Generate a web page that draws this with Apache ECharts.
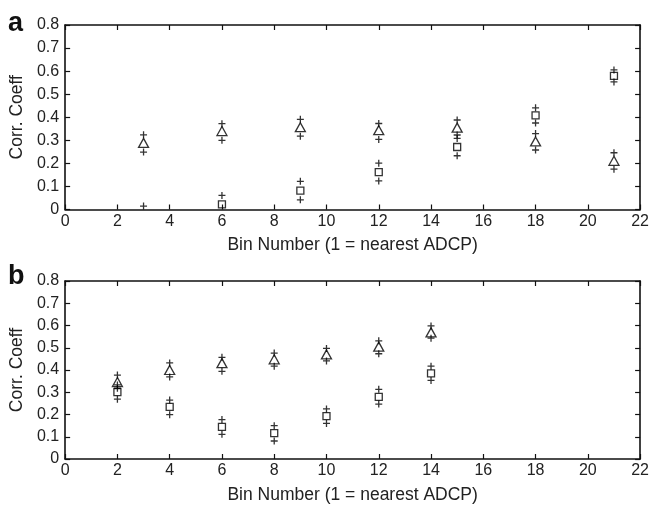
<!DOCTYPE html>
<html><head><meta charset="utf-8">
<script src="https://cdn.jsdelivr.net/npm/echarts@6/dist/echarts.min.js"></script>
<style>html,body{margin:0;padding:0;background:#fff}#c{width:652px;height:505px}</style>
</head><body><div id="c"></div>
<script>
// Panel a
const binsA = [3, 6, 9, 12, 15, 18, 21];
const triA = [0.289, 0.340, 0.357, 0.344, 0.355, 0.295, 0.211];
const triA_hi = [0.324, 0.372, 0.391, 0.373, 0.388, 0.329, 0.246];
const triA_lo = [0.249, 0.300, 0.318, 0.304, 0.323, 0.258, 0.175];
const sqA = [null, 0.022, 0.082, 0.162, 0.271, 0.408, 0.579];
const sqA_hi = [0.015, 0.061, 0.122, 0.201, 0.308, 0.441, 0.605];
const sqA_lo = [null, null, 0.042, 0.124, 0.233, 0.375, 0.553];
// Panel b
const binsB = [2, 4, 6, 8, 10, 12, 14];
const triB = [0.346, 0.400, 0.431, 0.448, 0.470, 0.505, 0.569];
const triB_hi = [0.377, 0.432, 0.457, 0.476, 0.497, 0.531, 0.598];
const triB_lo = [0.318, 0.369, 0.394, 0.417, 0.441, 0.473, 0.543];
const sqB = [0.301, 0.234, 0.144, 0.116, 0.193, 0.279, 0.385];
const sqB_hi = [0.333, 0.265, 0.177, 0.150, 0.225, 0.313, 0.417];
const sqB_lo = [0.269, 0.199, 0.111, 0.081, 0.160, 0.247, 0.353];

const xTicks = [0, 22, 2];
const yTicks = [0, 0.8, 0.1];
const xTitle = 'Bin Number (1 = nearest ADCP)';
const yTitle = 'Corr. Coeff';
const panelLabels = ['a', 'b'];

const FONT = 'Liberation Sans, Arial, sans-serif';
const chart = echarts.init(document.getElementById('c'));
const pair = (xs, ys) => xs.map((x, i) => ys[i] == null ? null : [x, ys[i]]).filter(d => d);
const plus = 'path://M-1,0L1,0M0,-1L0,1';

const grids = [
  {left: 63, right: 9, top: 25, height: 184.5},
  {left: 63, right: 9, top: 281, height: 183.5}
];
const xAxis = [], yAxis = [];
grids.forEach((g, gi) => {
  const common = {min: xTicks[0], max: xTicks[1], interval: xTicks[2], gridIndex: gi,
    splitLine: {show: false}, axisLine: {onZero: false, lineStyle: {color: '#111', width: 1.6}},
    axisTick: {inside: true, length: 5, lineStyle: {color: '#111', width: 1.2}}};
  xAxis.push(Object.assign({}, common, {type: 'value', position: 'bottom',
    axisLabel: {color: '#222', fontSize: 16, fontFamily: FONT, margin: 4,
      formatter: v => (v === 0 ? '0' : String(v))},
    name: xTitle, nameLocation: 'middle', nameGap: 27,
    nameTextStyle: {color: '#222', fontSize: 17.5, fontFamily: FONT}}));
  xAxis.push(Object.assign({}, common, {type: 'value', position: 'top', axisLabel: {show: false}}));
  const ycommon = {min: yTicks[0], max: yTicks[1], interval: yTicks[2], gridIndex: gi,
    splitLine: {show: false}, axisLine: {onZero: false, lineStyle: {color: '#111', width: 1.6}},
    axisTick: {inside: true, length: 5, lineStyle: {color: '#111', width: 1.2}}};
  yAxis.push(Object.assign({}, ycommon, {type: 'value', position: 'left',
    axisLabel: {color: '#222', fontSize: 16, fontFamily: FONT, margin: 6,
      formatter: v => (v === 0 ? '0' : v.toFixed(1))},
    name: yTitle, nameLocation: 'middle', nameGap: 36, nameRotate: 90,
    nameTextStyle: {color: '#222', fontSize: 17.5, fontFamily: FONT}}));
  yAxis.push(Object.assign({}, ycommon, {type: 'value', position: 'right', axisLabel: {show: false}}));
});

const series = [];
function addPanel(gi, bins, tri, triHi, triLo, sq, sqHi, sqLo) {
  const base = {type: 'scatter', xAxisIndex: gi * 2, yAxisIndex: gi * 2, silent: true, clip: true};
  series.push(Object.assign({}, base, {data: pair(bins, tri), symbol: 'triangle', symbolSize: [10, 9],
    itemStyle: {color: 'rgba(0,0,0,0)', borderColor: '#000', borderWidth: 1.3}}));
  series.push(Object.assign({}, base, {data: pair(bins, sq), symbol: 'rect', symbolSize: 7,
    itemStyle: {color: 'rgba(0,0,0,0)', borderColor: '#000', borderWidth: 1.3}}));
  [triHi, triLo, sqHi, sqLo].forEach(arr => {
    series.push(Object.assign({}, base, {data: pair(bins, arr), symbol: plus, symbolSize: 7,
      itemStyle: {color: 'rgba(0,0,0,0)', borderColor: '#000', borderWidth: 1.3}}));
  });
}
addPanel(0, binsA, triA, triA_hi, triA_lo, sqA, sqA_hi, sqA_lo);
addPanel(1, binsB, triB, triB_hi, triB_lo, sqB, sqB_hi, sqB_lo);

chart.setOption({
  animation: false,
  backgroundColor: '#fff',
  grid: grids,
  xAxis, yAxis, series,
  graphic: [
    {type: 'text', left: 8, top: 10, style: {text: panelLabels[0], font: 'bold 27px ' + FONT, fill: '#111'}},
    {type: 'text', left: 8, top: 263, style: {text: panelLabels[1], font: 'bold 27px ' + FONT, fill: '#111'}}
  ]
});
</script></body></html>
